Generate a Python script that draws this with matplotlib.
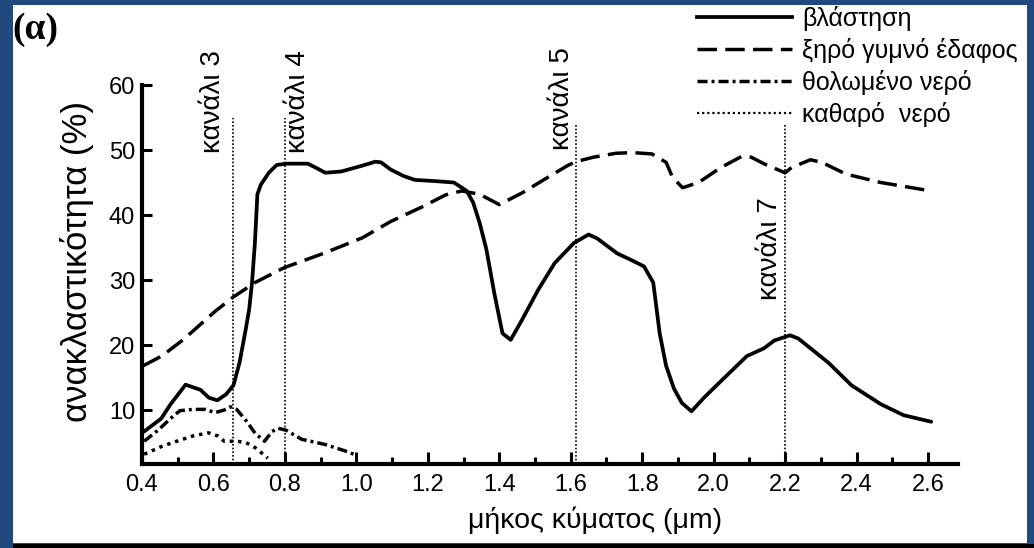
import matplotlib
matplotlib.use("Agg")
import matplotlib.pyplot as plt
from matplotlib.lines import Line2D
from matplotlib.patches import Rectangle
from matplotlib.transforms import offset_copy

# ---- spectral reflectance curves (wavelength in µm, reflectance in %) ----
veg_wl = [0.406, 0.454, 0.480, 0.522, 0.564, 0.587, 0.611, 0.635, 0.656, 0.673,
          0.690, 0.700, 0.708, 0.716, 0.723, 0.733, 0.755, 0.777, 0.804, 0.864,
          0.886, 0.913, 0.958, 1.017, 1.053, 1.069, 1.096, 1.132, 1.164, 1.225,
          1.273, 1.309, 1.327, 1.345, 1.364, 1.386, 1.409, 1.432, 1.464, 1.509,
          1.555, 1.609, 1.650, 1.674, 1.730, 1.776, 1.805, 1.831, 1.849, 1.867,
          1.889, 1.911, 1.938, 1.973, 2.027, 2.093, 2.141, 2.170, 2.214, 2.237,
          2.321, 2.386, 2.468, 2.532, 2.609]
veg_refl = [6.7, 8.7, 10.9, 13.9, 13.1, 11.9, 11.5, 12.4, 13.8, 17.3,
            22.3, 25.5, 29.6, 35.7, 43.2, 44.7, 46.5, 47.7, 47.9, 47.9,
            47.3, 46.5, 46.7, 47.6, 48.2, 48.1, 47.0, 46.0, 45.4, 45.2,
            45.0, 43.7, 41.9, 38.8, 34.7, 28.0, 21.8, 20.8, 23.9, 28.5,
            32.6, 35.7, 37.0, 36.4, 34.1, 32.9, 32.1, 29.6, 21.8, 16.8,
            13.3, 11.1, 9.8, 11.9, 14.8, 18.3, 19.5, 20.7, 21.5, 21.0,
            17.3, 13.8, 10.9, 9.2, 8.2]

soil_wl = [0.403, 0.455, 0.515, 0.605, 0.656, 0.716, 0.798, 0.913, 1.017, 1.096,
           1.186, 1.250, 1.295, 1.345, 1.400, 1.464, 1.527, 1.591, 1.614, 1.664,
           1.727, 1.773, 1.827, 1.867, 1.885, 1.913, 1.958, 2.020, 2.078, 2.105,
           2.144, 2.200, 2.218, 2.271, 2.303, 2.370, 2.468, 2.598]
soil_refl = [16.8, 18.3, 20.8, 25.2, 27.4, 29.6, 31.9, 34.2, 36.5, 39.0,
             41.3, 43.1, 43.7, 43.2, 41.6, 43.4, 45.5, 47.6, 48.2, 48.9,
             49.5, 49.6, 49.4, 48.1, 45.8, 44.2, 45.0, 47.3, 49.0, 48.9,
             47.8, 46.5, 47.3, 48.5, 48.1, 46.3, 45.0, 43.8]

turbid_wl = [0.406, 0.445, 0.480, 0.506, 0.542, 0.578, 0.604, 0.630, 0.648, 0.665,
             0.691, 0.717, 0.743, 0.764, 0.781, 0.803, 0.847, 0.913, 0.969, 1.002]
turbid_refl = [5.2, 6.9, 8.7, 9.9, 10.1, 10.1, 9.6, 10.0, 10.5, 10.1,
               8.4, 6.4, 5.2, 6.7, 7.2, 6.9, 5.5, 4.7, 3.7, 3.0]

clear_wl = [0.406, 0.455, 0.497, 0.542, 0.586, 0.613, 0.630, 0.665, 0.691, 0.717,
            0.739, 0.752]
clear_refl = [3.2, 4.4, 5.2, 6.0, 6.5, 6.0, 5.2, 5.2, 5.0, 4.2,
              3.2, 2.6]

series_labels = ["βλάστηση", "ξηρό γυμνό έδαφος", "θολωμένο νερό", "καθαρό  νερό"]

# ---- sensor channels ----
channel_names = ["κανάλι 3", "κανάλι 4", "κανάλι 5", "κανάλι 7"]
channel_wl = [0.655, 0.80, 1.615, 2.20]
channel_top = [55.0, 55.0, 54.0, 54.0]

# ---- axis ticks ----
x_major = [0.4, 0.6, 0.8, 1.0, 1.2, 1.4, 1.6, 1.8, 2.0, 2.2, 2.4, 2.6]
x_major_labels = ["0.4", "0.6", "0.8", "1.0", "1.2", "1.4", "1.6", "1.8",
                  "2.0", "2.2", "2.4", "2.6"]
x_minor = [0.5, 0.7, 0.9, 1.1, 1.3, 1.5, 1.7, 1.9, 2.1, 2.3, 2.5]
y_major = [10, 20, 30, 40, 50, 60]
y_major_labels = ["10", "20", "30", "40", "50", "60"]

# ---- layout ----
plt.rcParams['font.family'] = ['Liberation Sans', 'DejaVu Sans']
W, H = 1034, 548
fig = plt.figure(figsize=(W / 100, H / 100), dpi=100, facecolor='#1F497D')


def fx(px):
    return px / W


def fy(py):
    return 1 - py / H


# white sheet and the dark strip along its lower edge
fig.add_artist(Rectangle((fx(13), fy(543)), fx(1027) - fx(13), fy(5) - fy(543),
                         transform=fig.transFigure, facecolor='white',
                         edgecolor='none', zorder=-5))
fig.add_artist(Rectangle((fx(13), 0), 1 - fx(13), fy(544),
                         transform=fig.transFigure, facecolor='black',
                         edgecolor='none', zorder=-4))

ax_left, ax_right, ax_top, ax_bottom = 142, 958, 85, 464
ax = fig.add_axes([fx(ax_left), fy(ax_bottom), fx(ax_right) - fx(ax_left),
                   fy(ax_top) - fy(ax_bottom)])
ax.set_facecolor('none')
ax.set_xlim(0.4, 2.684)
ax.set_ylim(1.7, 60)

for side in ('top', 'right'):
    ax.spines[side].set_visible(False)
for side in ('left', 'bottom'):
    ax.spines[side].set_linewidth(3.0)

ax.set_xticks(x_major)
ax.set_xticklabels(x_major_labels)
ax.set_xticks(x_minor, minor=True)
ax.set_yticks(y_major)
ax.set_yticklabels(y_major_labels)
ax.tick_params(axis='x', which='major', direction='in', length=8.5, width=2.2,
               labelsize=17, pad=7)
ax.tick_params(axis='x', which='minor', direction='in', length=5, width=2.2)
ax.tick_params(axis='y', which='major', direction='in', length=7.5, width=2.2,
               labelsize=17, pad=5)

lw = 2.5
ax.plot(veg_wl, veg_refl, color='black', lw=2.7, solid_joinstyle='round',
        solid_capstyle='round', zorder=4)
ax.plot(soil_wl, soil_refl, color='black', lw=lw, dashes=(5.6, 2.4), zorder=4)
ax.plot(turbid_wl, turbid_refl, color='black', lw=lw,
        dashes=(2.9, 1.15, 0.85, 1.15), zorder=4)
ax.plot(clear_wl, clear_refl, color='black', lw=lw, dashes=(1.0, 1.4), zorder=4)

# channel markers
ax.vlines(channel_wl, ax.get_ylim()[0], channel_top, colors='black',
          linewidth=1.2, linestyles=(0, (1, 1.2)), zorder=3)
label_dx = [-20, 13, -14, -15]          # pixel offset of each label from its line
label_base = [49.5, 49.5, 50.0, 26.9]   # lower end of each rotated label
for wl, name, dx, yb in zip(channel_wl, channel_names, label_dx, label_base):
    tr = offset_copy(ax.transData, fig=fig, x=dx, y=0, units='dots')
    ax.text(wl, yb, name, transform=tr, rotation=90, ha='center', va='bottom',
            fontsize=20, color='black', zorder=5)

# axis titles
ax.set_ylabel('ανακλαστικότητα (%)', fontsize=25, va='center', ha='center')
ax.yaxis.set_label_coords((77 - ax_left) / (ax_right - ax_left),
                          (ax_bottom - 262) / (ax_bottom - ax_top))
ax.set_xlabel('μήκος κύματος (μm)', fontsize=20.5, va='center', ha='center')
ax.xaxis.set_label_coords((595 - ax_left) / (ax_right - ax_left),
                          (ax_bottom - 520) / (ax_bottom - ax_top))

# legend
handles = [
    Line2D([], [], color='black', lw=2.7),
    Line2D([], [], color='black', lw=lw, dashes=(5.6, 2.4)),
    Line2D([], [], color='black', lw=lw, dashes=(2.9, 1.15, 0.85, 1.15)),
    Line2D([], [], color='black', lw=1.6, dashes=(1.0, 1.3)),
]
ax.legend(handles, series_labels, loc='upper left',
          bbox_to_anchor=(fx(697), fy(6)), bbox_transform=fig.transFigure,
          frameon=False, borderpad=0, borderaxespad=0, fontsize=18,
          handlelength=3.8, handletextpad=0.4, labelspacing=0.28)

fig.text(fx(12), fy(12), '(α)', fontfamily=['Liberation Serif', 'DejaVu Serif'],
         fontweight='bold', fontsize=27, ha='left', va='top')

fig.savefig('out.png', dpi=100, facecolor=fig.get_facecolor())
